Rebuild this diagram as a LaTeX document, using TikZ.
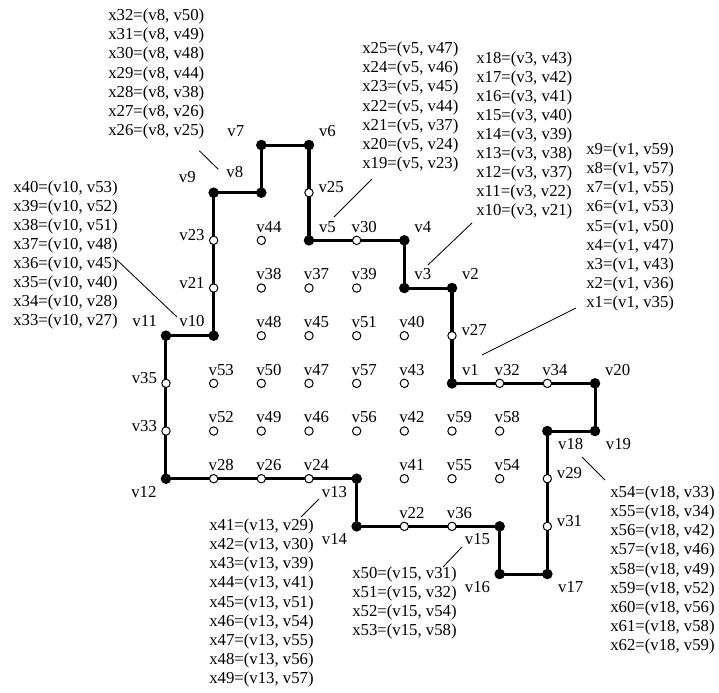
\documentclass[tikz,border=0pt]{standalone}
\usepackage{fontspec}
\setmainfont{Liberation Serif}
\usetikzlibrary{backgrounds}

\tikzset{
  corner/.style={circle,fill,inner sep=0pt,minimum size=6.3pt},
  hole/.style={circle,draw,line width=0.6pt,fill=white,inner sep=0pt,minimum size=5pt},
  tagW/.style n args={3}{label={[inner sep=0pt,text height=0pt,text depth=0pt,xshift=#1,yshift=#2]center:\rlap{#3}}},
  tagE/.style n args={3}{label={[inner sep=0pt,text height=0pt,text depth=0pt,xshift=#1,yshift=#2]center:\llap{#3}}},
  labA/.style={tagW={-3pt}{4.8pt}{#1}},
  labAR/.style={tagW={6pt}{4.8pt}{#1}},
  labAL/.style={tagE={-5.4pt}{5.4pt}{#1}},
  labBL/.style={tagE={-5.7pt}{-11pt}{#1}},
  labBR/.style={tagW={6.5pt}{-11.3pt}{#1}},
  labR/.style={tagW={5.7pt}{0pt}{#1}},
  labL/.style={tagE={-5.4pt}{0pt}{#1}},
  wall/.style={line width=1.8pt,line join=miter},
  stack/.style={align=left,inner sep=0pt,anchor=west},
  leader/.style={line width=0.5pt}
}

\begin{document}
\begin{tikzpicture}[font=\fontsize{10}{11.4}\selectfont]
\useasboundingbox (-3.482,-2.475) rectangle (11.601,12.042);
% corners of the region
\node[corner,labAR=v1] (v1) at (6,4) {};
\node[corner,labAR=v2] (v2) at (6,6) {};
\node[corner,labAR=v3] (v3) at (5,6) {};
\node[corner,labAR=v4] (v4) at (5,7) {};
\node[corner,labAR=v5] (v5) at (3,7) {};
\node[corner,labAR=v6] (v6) at (3,9) {};
\node[corner,tagE={-10.2pt}{4.8pt}{v7}] (v7) at (2,9) {};
\node[corner,tagE={-10.8pt}{8.8pt}{v8}] (v8) at (2,8) {};
\node[corner,tagE={-10.7pt}{6pt}{v9}] (v9) at (1,8) {};
\node[corner,labAL=v10] (v10) at (1,5) {};
\node[corner,labAL=v11] (v11) at (0,5) {};
\node[corner,labBL=v12] (v12) at (0,2) {};
\node[corner,labBL=v13] (v13) at (4,2) {};
\node[corner,labBL=v14] (v14) at (4,1) {};
\node[corner,labBL=v15] (v15) at (7,1) {};
\node[corner,labBL=v16] (v16) at (7,0) {};
\node[corner,labBR=v17] (v17) at (8,0) {};
\node[corner,labBR=v18] (v18) at (8,3) {};
\node[corner,labBR=v19] (v19) at (9,3) {};
\node[corner,labAR=v20] (v20) at (9,4) {};
% white vertices on the border
\node[hole,labL=v21] (v21) at (1,6) {};
\node[hole,labA=v22] (v22) at (5,1) {};
\node[hole,labL=v23] (v23) at (1,7) {};
\node[hole,labA=v24] (v24) at (3,2) {};
\node[hole,labR=v25] (v25) at (3,8) {};
\node[hole,labA=v26] (v26) at (2,2) {};
\node[hole,labR=v27] (v27) at (6,5) {};
\node[hole,labA=v28] (v28) at (1,2) {};
\node[hole,labR=v29] (v29) at (8,2) {};
\node[hole,labA=v30] (v30) at (4,7) {};
\node[hole,labR=v31] (v31) at (8,1) {};
\node[hole,labA=v32] (v32) at (7,4) {};
\node[hole,labL=v33] (v33) at (0,3) {};
\node[hole,labA=v34] (v34) at (8,4) {};
\node[hole,labL=v35] (v35) at (0,4) {};
\node[hole,labA=v36] (v36) at (6,1) {};
% inner vertices
\foreach \n/\x/\y in {44/2/7,38/2/6,37/3/6,39/4/6,48/2/5,45/3/5,51/4/5,40/5/5,
    53/1/4,50/2/4,47/3/4,57/4/4,43/5/4,52/1/3,49/2/3,46/3/3,56/4/3,42/5/3,
    59/6/3,58/7/3,41/5/2,55/6/2,54/7/2}
  \node[hole,labA=v\n] (v\n) at (\x,\y) {};
% the border
\begin{scope}[on background layer]
\draw[wall] (v1.center) -- (v2.center) -- (v3.center) -- (v4.center) -- (v5.center)
  -- (v6.center) -- (v7.center) -- (v8.center) -- (v9.center) -- (v10.center)
  -- (v11.center) -- (v12.center) -- (v13.center) -- (v14.center) -- (v15.center)
  -- (v16.center) -- (v17.center) -- (v18.center) -- (v19.center) -- (v20.center) -- cycle;
\end{scope}
% lists of pairs
\node[stack] (xv8) at (-1.217,10.489) {x32=(v8, v50)\\x31=(v8, v49)\\x30=(v8, v48)\\x29=(v8, v44)\\x28=(v8, v38)\\x27=(v8, v26)\\x26=(v8, v25)};
\node[stack] (xv5) at (4.112,9.797) {x25=(v5, v47)\\x24=(v5, v46)\\x23=(v5, v45)\\x22=(v5, v44)\\x21=(v5, v37)\\x20=(v5, v24)\\x19=(v5, v23)};
\node[stack] (xv3) at (6.503,9.199) {x18=(v3, v43)\\x17=(v3, v42)\\x16=(v3, v41)\\x15=(v3, v40)\\x14=(v3, v39)\\x13=(v3, v38)\\x12=(v3, v37)\\x11=(v3, v22)\\x10=(v3, v21)};
\node[stack] (xv1) at (8.811,7.280) {x9=(v1, v59)\\x8=(v1, v57)\\x7=(v1, v55)\\x6=(v1, v53)\\x5=(v1, v50)\\x4=(v1, v47)\\x3=(v1, v43)\\x2=(v1, v36)\\x1=(v1, v35)};
\node[stack] (xv10) at (-3.210,6.693) {x40=(v10, v53)\\x39=(v10, v52)\\x38=(v10, v51)\\x37=(v10, v48)\\x36=(v10, v45)\\x35=(v10, v40)\\x34=(v10, v28)\\x33=(v10, v27)};
\node[stack] (xv13) at (0.902,-0.608) {x41=(v13, v29)\\x42=(v13, v30)\\x43=(v13, v39)\\x44=(v13, v41)\\x45=(v13, v51)\\x46=(v13, v54)\\x47=(v13, v55)\\x48=(v13, v56)\\x49=(v13, v57)};
\node[stack] (xv15) at (3.902,-0.608) {x50=(v15, v31)\\x51=(v15, v32)\\x52=(v15, v54)\\x53=(v15, v58)};
\node[stack] (xv18) at (9.314,0.085) {x54=(v18, v33)\\x55=(v18, v34)\\x56=(v18, v42)\\x57=(v18, v46)\\x58=(v18, v49)\\x59=(v18, v52)\\x60=(v18, v56)\\x61=(v18, v58)\\x62=(v18, v59)};
% leader lines
\coordinate (l8a) at (0.699,8.880);   \coordinate (l8b) at (1.097,8.490);
\coordinate (l5a) at (3.524,7.490);   \coordinate (l5b) at (4.321,8.287);
\coordinate (l3a) at (5.496,6.483);   \coordinate (l3b) at (6.419,7.364);
\coordinate (l1a) at (6.629,4.595);   \coordinate (l1b) at (8.601,5.581);
\coordinate (l10a) at (-1.028,6.588); \coordinate (l10b) at (0.231,5.392);
\coordinate (l13a) at (3.210,1.574);  \coordinate (l13b) at (2.832,1.196);
\coordinate (l15a) at (6.209,0.567);  \coordinate (l15b) at (5.811,0.147);
\coordinate (l18a) at (8.727,2.455);  \coordinate (l18b) at (9.209,1.972);
\draw[leader] (l8a) -- (l8b);
\draw[leader] (l5a) -- (l5b);
\draw[leader] (l3a) -- (l3b);
\draw[leader] (l1a) -- (l1b);
\draw[leader] (l10a) -- (l10b);
\draw[leader] (l13a) -- (l13b);
\draw[leader] (l15a) -- (l15b);
\draw[leader] (l18a) -- (l18b);
\end{tikzpicture}
\end{document}
